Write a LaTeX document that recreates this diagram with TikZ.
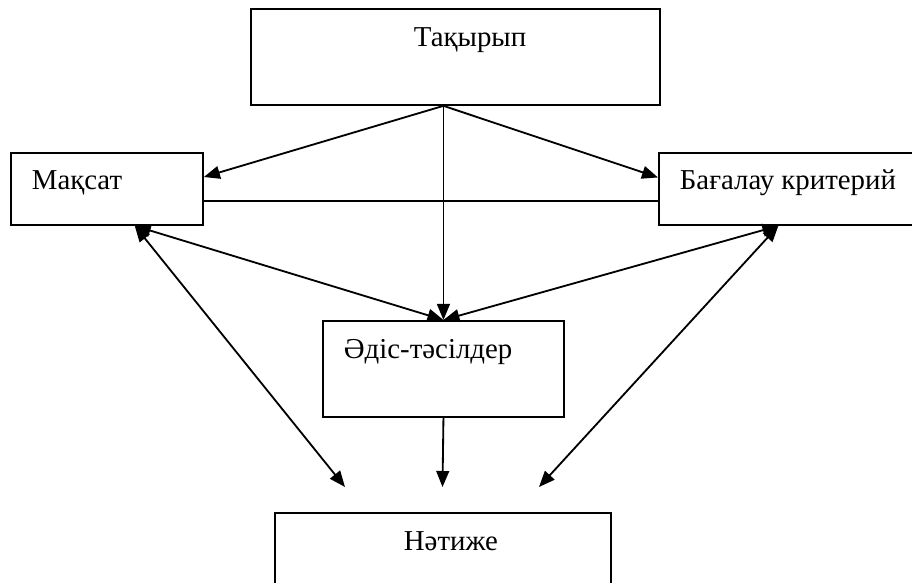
\documentclass[tikz,border=0pt]{standalone}
\usepackage{fontspec}
\setmainfont{Liberation Serif}
\usetikzlibrary{arrows.meta}

\begin{document}
\begin{tikzpicture}[x=0.025cm,y=-0.025cm,line width=1.3pt,
    box/.style={draw,rectangle,inner sep=0pt,anchor=north west},
    txt/.style={anchor=base west,inner sep=0pt,font=\fontsize{20.5}{24}\selectfont},
    arr/.style={-{Triangle[length=0.4cm,width=0.32cm]}},
    darr/.style={{Triangle[length=0.4cm,width=0.32cm]}-{Triangle[length=0.4cm,width=0.32cm]}}]
  \useasboundingbox (0,0) rectangle (912,583);
  % boxes
  \node[box,minimum width=10.225cm,minimum height=2.4cm] (top) at (250,8) {};
  \node[box,minimum width=4.8cm,minimum height=1.8cm] (maqsat) at (10,152) {};
  \node[box,minimum width=6.5cm,minimum height=1.8cm] (baga) at (658,152) {};
  \node[box,minimum width=6.025cm,minimum height=2.4cm] (adis) at (322,320) {};
  \node[box,minimum width=8.4cm,minimum height=2.5cm] (natije) at (274,512) {};
  % texts
  \node[txt] (t-top) at (413,47) {Тақырып};
  \node[txt] (t-maqsat) at (31,190) {Мақсат};
  \node[txt] (t-baga) at (679,190) {Бағалау критерий};
  \node[txt] (t-adis) at (343,358) {Әдіс-тәсілдер};
  \node[txt] (t-natije) at (403,550) {Нәтиже};
  % free ends above the result box
  \coordinate (nl) at (345,487);
  \coordinate (nm) at (442.5,487);
  \coordinate (nr) at (539,487);
  \coordinate (src) at (top.south -| adis.north);

  \draw[arr] (src) -- (maqsat.7);
  \draw[arr] (src) -- (baga.175);
  \draw[arr] (src) -- (adis.north);
  \draw (maqsat.-7) -- (maqsat.-7 -| baga.west);

  \draw[darr] (maqsat.-53) -- (adis.north);
  \draw[darr] (baga.-106) -- (adis.north);
  \draw[darr] (maqsat.-53) -- (nl);
  \draw[darr] (baga.-106) -- (nr);
  \draw[arr] (adis.south) -- (nm);
\end{tikzpicture}
\end{document}
